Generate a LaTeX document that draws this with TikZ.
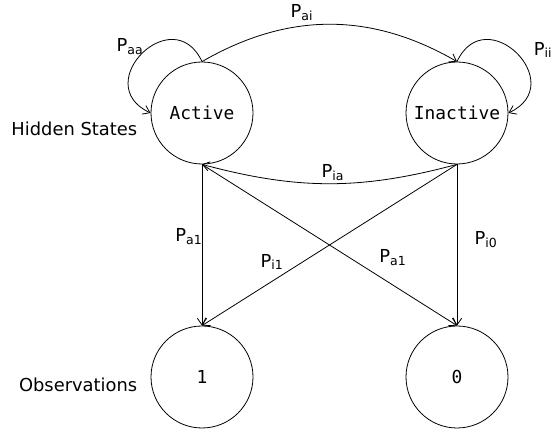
\documentclass[tikz,border=0pt]{standalone}
\usepackage{fontspec}
\setmainfont{DejaVu Sans}
\setmonofont{DejaVu Sans Mono}
\usetikzlibrary{arrows.meta}

\newcommand{\prob}[1]{P\textsubscript{#1}}

\begin{document}
\begin{tikzpicture}[>={Straight Barb[length=5pt,width=7pt]}, x=0.75pt, y=0.75pt,
    font=\fontsize{13.4}{16}\selectfont, line width=0.6pt,
    state/.style={circle, draw, minimum size=76.5pt, inner sep=0pt,
                  font=\fontsize{13.4}{16}\selectfont\ttfamily},
    lbl/.style={inner sep=1pt}]
  \useasboundingbox (0,0) rectangle (556,431);
  \node[state] (act)  at (202,318) {Active};
  \node[state] (ina)  at (457,318) {Inactive};
  \node[state] (one)  at (202,54)  {1};
  \node[state] (zero) at (457,54)  {0};
  \node[anchor=east] (hid) at (142,302) {Hidden States};
  \node[anchor=east] (obs) at (142,46)  {Observations};
  % hidden state transitions
  \draw[->] (act.north) to[out=115, in=155, looseness=2.4] (act.west);
  \draw[->] (ina.north) to[out=65, in=25, looseness=2.4] (ina.east);
  \draw[->] (act.north) to[bend left=30] (ina.north);
  \draw[->] (ina.south) to[bend left=15] (act.south);
  \node[lbl] (paa) at (130,384) {\prob{aa}};
  \node[lbl] (pii) at (543,381) {\prob{ii}};
  \node[lbl] (pai) at (302,418) {\prob{ai}};
  \node[lbl] (pia) at (333,258) {\prob{ia}};
  % emissions
  \draw[->] (act.south) -- (one.north);
  \draw[->] (act.south) -- (zero.north);
  \draw[->] (ina.south) -- (one.north);
  \draw[->] (ina.south) -- (zero.north);
  \node[lbl] (pa1l) at (189,194) {\prob{a1}};
  \node[lbl] (pi1)  at (272,169) {\prob{i1}};
  \node[lbl] (pa1r) at (393,173) {\prob{a1}};
  \node[lbl] (pi0)  at (486,191) {\prob{i0}};
\end{tikzpicture}
\end{document}
